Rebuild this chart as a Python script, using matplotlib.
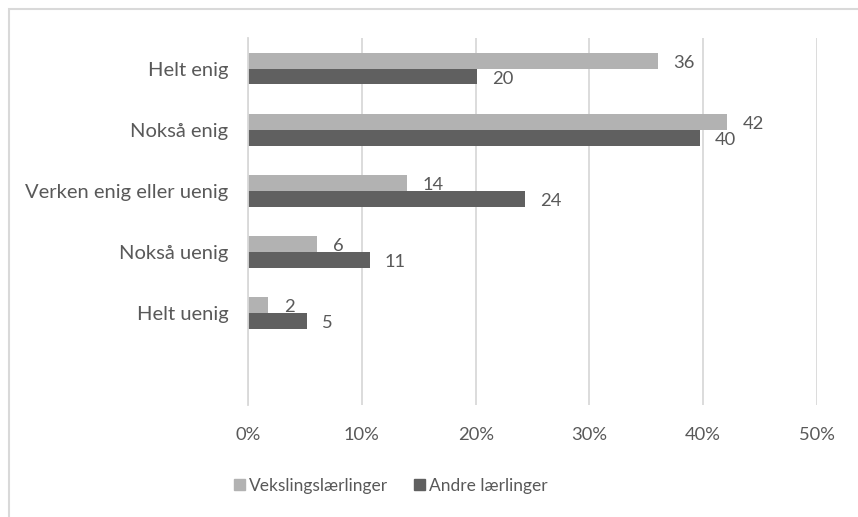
import matplotlib
matplotlib.use("Agg")
import matplotlib.pyplot as plt
from matplotlib.patches import Rectangle, Patch
from matplotlib.ticker import FuncFormatter, MultipleLocator

# data (percent) — top to bottom
categories = ["Helt enig", "Nokså enig", "Verken enig eller uenig", "Nokså uenig", "Helt uenig"]
vekslings = [36.0, 42.1, 14.0, 6.1, 1.8]
andre = [20.1, 39.7, 24.3, 10.7, 5.2]
series_names = ["Vekslingslærlinger", "Andre lærlinger"]

C_LIGHT = "#B2B2B2"
C_DARK = "#606060"
C_TXT = "#595959"
C_GRID = "#D9D9D9"

plt.rcParams["font.family"] = ["Lato", "DejaVu Sans"]
FS_CAT, FS_NUM, FS_LEG = 14.5, 13.2, 12.5

W, H = 858, 517
fig = plt.figure(figsize=(W / 100, H / 100), dpi=100)
ax = fig.add_axes([248 / W, 1 - 405 / H, (817 - 248) / W, (405 - 38) / H])

n = len(categories)
ypos = [n - i for i in range(n)]   # 5..1, slot 0 left empty
bh = 0.26
b1 = ax.barh([y + bh / 2 for y in ypos], vekslings, height=bh, color=C_LIGHT, zorder=2)
b2 = ax.barh([y - bh / 2 for y in ypos], andre, height=bh, color=C_DARK, zorder=2)

for bars, vals in ((b1, vekslings), (b2, andre)):
    for r, v in zip(bars, vals):
        ax.annotate(f"{v:.0f}", (r.get_width(), r.get_y() + r.get_height() / 2),
                    xytext=(11, -1.5), textcoords="offset points",
                    ha="left", va="center", fontsize=FS_NUM, color=C_TXT)

ax.set_xlim(0, 50)
ax.set_ylim(-0.5, n + 0.5)
ax.xaxis.set_major_locator(MultipleLocator(10))
ax.xaxis.set_major_formatter(FuncFormatter(lambda v, p: f"{v:.0f}%"))
ax.set_yticks(ypos)
ax.set_yticklabels(categories)
ax.grid(axis="x", color=C_GRID, lw=1.3, zorder=0)
ax.set_axisbelow(True)
for s in ("top", "right", "bottom"):
    ax.spines[s].set_visible(False)
ax.spines["left"].set_color(C_GRID)
ax.spines["left"].set_linewidth(1.3)
ax.tick_params(axis="x", length=0, pad=16, labelsize=FS_NUM, labelcolor=C_TXT)
ax.tick_params(axis="y", length=0, pad=14, labelsize=FS_CAT, labelcolor=C_TXT)

handles = [Patch(color=C_LIGHT), Patch(color=C_DARK)]
fig.legend(handles, series_names, loc="center", bbox_to_anchor=(391 / W, 1 - 486 / H),
           ncol=2, frameon=False, fontsize=FS_LEG, labelcolor=C_TXT,
           handlelength=0.6, handleheight=0.6, handletextpad=0.25, columnspacing=1.5)

# chart-area border (runs off the right and bottom edges)
fig.patches.append(Rectangle((8.5 / W, -0.1), 1.2, 1.1 - 8.5 / H, transform=fig.transFigure,
                             fill=False, edgecolor=C_GRID, lw=1.5))

fig.savefig("out.png", dpi=100, facecolor="white")
